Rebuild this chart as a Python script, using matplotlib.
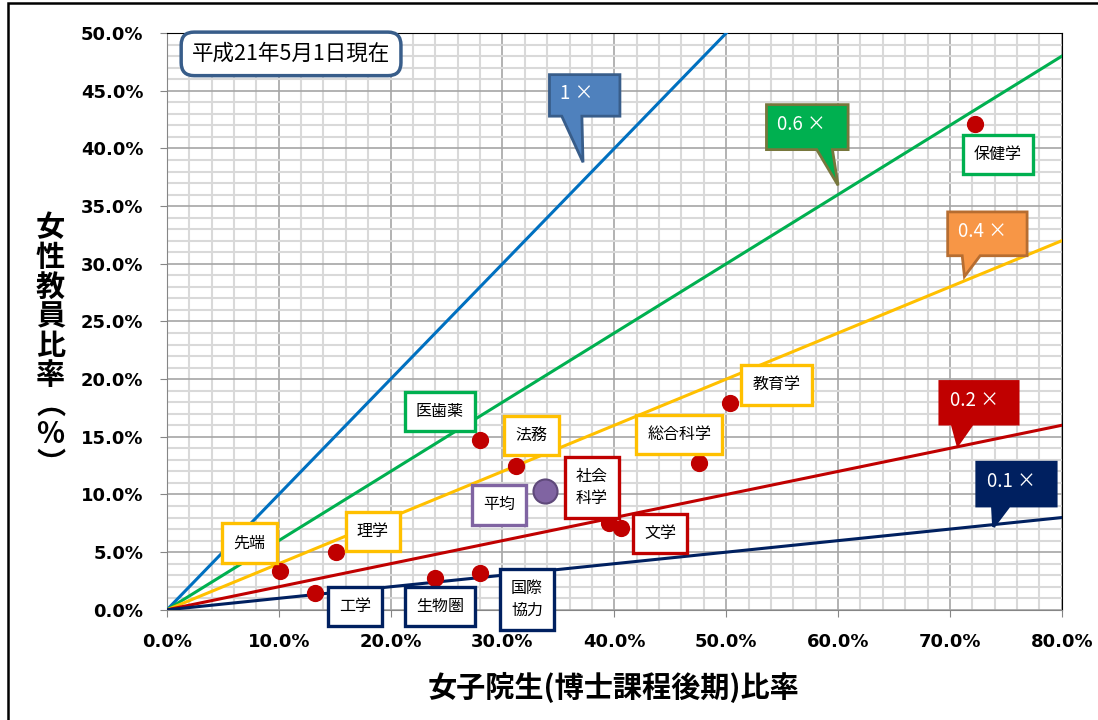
import matplotlib
matplotlib.use("agg")
import matplotlib.pyplot as plt
from matplotlib.patches import Polygon, Rectangle
from matplotlib.ticker import MultipleLocator, FuncFormatter

plt.rcParams['font.family'] = ['Noto Sans CJK JP', 'DejaVu Sans']

# 研究科ごとの比率 (%)
fields = ['先端', '工学', '理学', '生物圏', '国際\n協力', '医歯薬', '法務',
          '社会\n科学', '文学', '総合科学', '教育学', '保健学']
student_ratio = [10.1, 13.2, 15.1, 24.0, 28.0, 28.0, 31.2, 39.5, 40.6, 47.6, 50.3, 72.2]
faculty_ratio = [3.4, 1.5, 5.0, 2.8, 3.2, 14.7, 12.5, 7.5, 7.1, 12.7, 17.9, 42.1]
avg_label = '平均'
avg_student = 33.8
avg_faculty = 10.3

# 基準線 y = k * x
factors = [1.0, 0.6, 0.4, 0.2, 0.1]
factor_labels = ['1 ×', '0.6 ×', '0.4 ×', '0.2 ×', '0.1 ×']
line_colors = ['#0070C0', '#00B050', '#FFC000', '#C00000', '#002060']

# 吹き出し: 塗り, 枠, 箱(x0, x1, y0, y1), しっぽの付け根(xa, xb), 先端
callout_fill = ['#4F81BD', '#00B050', '#F79646', '#C00000', '#002060']
callout_edge = ['#385D8A', '#77773C', '#B66D31', '#C00000', '#002060']
callout_box = [(34.2, 40.5, 42.8, 46.4), (53.6, 60.9, 39.9, 43.8),
               (69.8, 76.9, 30.7, 34.5), (69.1, 76.1, 16.1, 19.8),
               (72.4, 79.5, 9.0, 12.8)]
callout_base = [(35.3, 37.1), (58.1, 59.5), (71.1, 72.7), (70.2, 72.0), (73.8, 75.3)]
callout_tip = [(37.2, 38.8), (60.0, 36.8), (71.3, 28.9), (70.7, 14.3), (73.9, 7.2)]

# ラベル枠の位置と枠色
label_pos = [(7.4, 5.8), (16.8, 0.3), (18.4, 6.8), (24.4, 0.3), (32.2, 0.9),
             (24.4, 17.2), (32.6, 15.1), (38.0, 10.6), (44.1, 6.6), (45.8, 15.2),
             (54.5, 19.5), (74.3, 39.5)]
label_edge = ['#FFC000', '#002060', '#FFC000', '#002060', '#002060',
              '#00B050', '#FFC000', '#C00000', '#C00000', '#FFC000',
              '#FFC000', '#00B050']
avg_pos = (29.7, 9.1)

fig = plt.figure(figsize=(10.98, 7.2), dpi=100)
ax = fig.add_axes([0.152, 0.153, 0.815, 0.801])
ax.set_xlim(0, 80)
ax.set_ylim(0, 50)

ax.xaxis.set_major_locator(MultipleLocator(10))
ax.xaxis.set_minor_locator(MultipleLocator(2))
ax.yaxis.set_major_locator(MultipleLocator(5))
ax.yaxis.set_minor_locator(MultipleLocator(1))
ax.grid(which='minor', color='#D9D9D9', linewidth=1.5, zorder=0)
ax.grid(which='major', color='#A6A6A6', linewidth=1.2, zorder=0)
ax.set_axisbelow(True)
pct = FuncFormatter(lambda v, p: f'{v:.1f}%')
ax.xaxis.set_major_formatter(pct)
ax.yaxis.set_major_formatter(pct)
ax.tick_params(which='major', direction='out', length=5, color='#868686', labelsize=13)
ax.tick_params(axis='x', which='major', pad=12)
ax.tick_params(axis='y', which='major', pad=12)
ax.tick_params(which='minor', length=0)
for lab in ax.get_xticklabels() + ax.get_yticklabels():
    lab.set_fontweight('bold')
    lab.set_family('DejaVu Sans')
for s in ['left', 'bottom']:
    ax.spines[s].set_color('#868686')
for s in ['top', 'right']:
    ax.spines[s].set_color('black')

for k, c in zip(factors, line_colors):
    ax.plot([0, 80], [0, 80 * k], color=c, linewidth=2.2, zorder=3)

ax.scatter(student_ratio, faculty_ratio, s=130, color='#C00000', zorder=5)
ax.scatter([avg_student], [avg_faculty], s=300, color='#8064A2', edgecolor='#5F497A',
           linewidth=1.5, zorder=5)

for name, (px, py), ec in zip(fields, label_pos, label_edge):
    ax.text(px, py, name, ha='center', va='center', fontsize=11.5, zorder=6,
            linespacing=1.4, clip_on=False,
            bbox=dict(boxstyle='square,pad=0.7', fc='white', ec=ec, lw=2.4))
ax.text(avg_pos[0], avg_pos[1], avg_label, ha='center', va='center', fontsize=11.5, zorder=6,
        bbox=dict(boxstyle='square,pad=0.7', fc='white', ec='#8064A2', lw=2.4))

for lbl, fc, ec, (x0, x1, y0, y1), (xa, xb), tip in zip(
        factor_labels, callout_fill, callout_edge, callout_box, callout_base, callout_tip):
    poly = Polygon([(x0, y1), (x1, y1), (x1, y0), (xb, y0), tip, (xa, y0), (x0, y0)],
                   closed=True, fc=fc, ec=ec, lw=2, zorder=7)
    ax.add_patch(poly)
    ax.text(x0 + 0.9, (y0 + y1) / 2 + 0.2, lbl, color='white', fontsize=13.5,
            ha='left', va='center', zorder=8)

ax.text(11.1, 48.2, '平成21年5月1日現在', ha='center', va='center', fontsize=15.5, zorder=8,
        bbox=dict(boxstyle='round,pad=0.5,rounding_size=0.6', fc='white', ec='#385D8A', lw=2.5))

ylabel_chars = ['女', '性', '教', '員', '比', '率', '︵', '%', '︶']
fig.text(0.046, 0.52, '\n'.join(ylabel_chars), ha='center', va='center', fontsize=21,
         fontweight='bold', linespacing=0.98)
fig.text(0.559, 0.045, '女子院生(博士課程後期)比率', ha='center', va='center',
         fontsize=21, fontweight='bold')

fig.patches.append(Rectangle((8 / 1098, -0.05), 1.2, 0.05 + 717 / 720, transform=fig.transFigure,
                             fill=False, ec='black', lw=1.8))

plt.savefig("out.png", dpi=100)
